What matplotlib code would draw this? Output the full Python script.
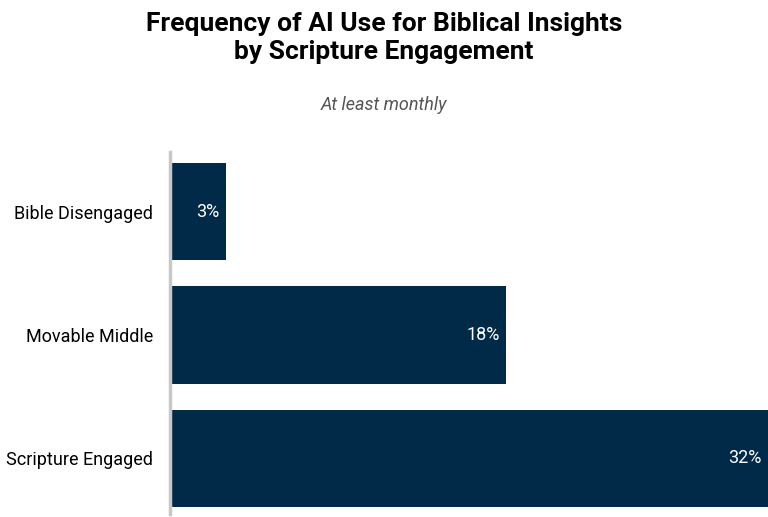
import matplotlib
matplotlib.use("Agg")
import matplotlib.pyplot as plt

categories = ["Bible Disengaged", "Movable Middle", "Scripture Engaged"]
values = [3, 18, 32]
labels = ["3%", "18%", "32%"]

plt.rcParams['font.family'] = ['Roboto', 'DejaVu Sans']

fig = plt.figure(figsize=(7.68, 5.17), dpi=100)
ax = fig.add_axes([170 / 768, -3 / 517, 598 / 768, 370 / 517])

bar_color = "#002a47"
ax.barh(range(len(categories)), values, height=0.79, color=bar_color)
for i, (v, lab) in enumerate(zip(values, labels)):
    ax.text(v - 0.35, i, lab, ha="right", va="center", color="white", fontsize=13)

ax.set_xlim(0, 32)
ax.set_ylim(2.5, -0.5)
ax.set_yticks(range(len(categories)))
ax.set_yticklabels(categories, fontsize=13)
ax.set_xticks([])
ax.tick_params(axis="y", length=0, pad=12)
for s in ["top", "right", "bottom"]:
    ax.spines[s].set_visible(False)
ax.spines["left"].set_color("#c8c8c8")
ax.spines["left"].set_linewidth(2.5)
ax.spines["left"].set_bounds(-0.48, 2.45)

fig.text(0.5, 1 - 38 / 517, "Frequency of AI Use for Biblical Insights\nby Scripture Engagement",
         ha="center", va="center", fontsize=19, fontweight="bold", linespacing=1.25)
fig.text(0.5, 1 - 105 / 517, "At least monthly", ha="center", va="center",
         fontsize=13, style="italic", color="#555555")

fig.savefig("out.png", dpi=100)
